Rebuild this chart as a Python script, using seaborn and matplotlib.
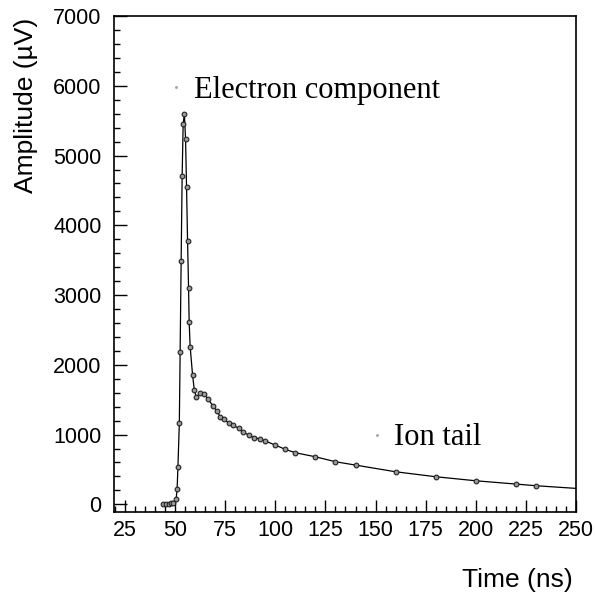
import numpy as np
import pandas as pd
import matplotlib
matplotlib.use('Agg')
import matplotlib.pyplot as plt
import seaborn as sns
from matplotlib.ticker import MultipleLocator

# signal samples
time_ns = [44.0, 45.5, 47.0, 48.0, 49.0, 50.5, 51.0, 51.4, 52.1, 52.5,
           53.0, 53.5, 54.0, 54.6, 55.2, 55.7, 56.2, 56.7, 57.0, 57.5,
           58.7, 59.6, 60.6, 62.5, 64.6, 66.6, 68.7, 70.7, 72.5, 74.6,
           76.7, 78.7, 81.7, 83.7, 86.7, 89.5, 92.5, 95.0, 100.0, 105.0,
           110.0, 120.0, 130.0, 140.0, 160.0, 180.0, 200.0, 220.0, 230.0]
amp_uv = [0, 5, 10, 15, 25, 76, 220, 540, 1165, 2190,
          3490, 4705, 5447, 5600, 5236, 4553, 3779, 3105, 2618, 2259,
          1853, 1633, 1534, 1591, 1577, 1505, 1417, 1342, 1256, 1228,
          1161, 1132, 1093, 1041, 993, 955, 936, 907, 850, 788,
          740, 682, 611, 563, 467, 396, 338, 291, 267]

# curve continues past the last sample
tail_t = [230.0, 240.0, 250.0]
tail_v = [267, 248, 229]

# annotations
labels = ['Electron component', 'Ion tail']
label_t = [59.2, 159.0]
label_v = [5824, 850]
anchor_t = [50.3, 150.8]
anchor_v = [5986, 993]

df = pd.DataFrame({'time': time_ns, 'amp': amp_uv})

sns.set_style('ticks')
plt.rcParams['font.family'] = ['Liberation Sans', 'DejaVu Sans']
plt.rcParams['text.color'] = 'black'
plt.rcParams['axes.labelcolor'] = 'black'
plt.rcParams['xtick.color'] = 'black'
plt.rcParams['ytick.color'] = 'black'

fig = plt.figure(figsize=(5.95, 5.94), dpi=100)
ax = fig.add_axes([0.1916, 0.138, 0.968 - 0.1916, 0.973 - 0.138])

ax.plot(tail_t, tail_v, color='black', lw=0.9)
sns.lineplot(data=df, x='time', y='amp', ax=ax, color='black', lw=0.9,
             marker='o', markersize=3.4, markerfacecolor='#999999',
             markeredgecolor='#222222', markeredgewidth=0.8)
ax.plot(anchor_t, anchor_v, ls='none', marker='o', ms=1.2, color='#aaaaaa')

for txt, tx, ty in zip(labels, label_t, label_v):
    ax.text(tx, ty, txt, family=['Liberation Serif', 'DejaVu Serif'],
            fontsize=22, ha='left', va='baseline', color='black')

ax.set_xlim(19.5, 250)
ax.set_ylim(-110, 7000)
ax.set_xticks(np.arange(25, 251, 25))
ax.set_yticks(np.arange(0, 7001, 1000))
ax.xaxis.set_minor_locator(MultipleLocator(5))
ax.yaxis.set_minor_locator(MultipleLocator(200))
ax.tick_params(which='both', direction='in', top=False, right=False,
               labelsize=15.5, width=1, colors='black')
ax.tick_params(which='major', length=9)
ax.tick_params(which='minor', length=4.5)
ax.tick_params(axis='x', pad=6)
ax.tick_params(axis='y', pad=9)
for s in ax.spines.values():
    s.set_linewidth(1.2)
    s.set_color('black')

ax.set_xlabel('Time (ns)', fontsize=19, loc='right')
ax.set_ylabel('Amplitude (\u00b5V)', fontsize=19, loc='top')
ax.xaxis.set_label_coords(1.0 - 3 / 462, -0.113)
ax.yaxis.set_label_coords(-0.165, 1.0 - 2 / 496)

fig.savefig('out.png', dpi=100)
